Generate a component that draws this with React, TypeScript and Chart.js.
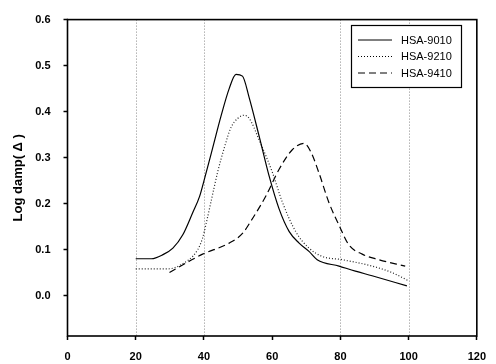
import React, { useEffect, useRef } from "react";
import { Chart, registerables } from "chart.js";

Chart.register(...registerables);

const seriesNames = ["HSA-9010", "HSA-9210", "HSA-9410"];

const x9010 = [20, 24.6, 28, 30.9, 33.8, 36.7, 38.7, 40.1, 42.6, 45, 47.4, 49.4, 51.3, 53.2, 56.2, 59.1, 62, 65, 67.9, 70.8, 73.2, 79.6, 84.4, 89.3, 99.5];
const y9010 = [0.08, 0.08, 0.089, 0.103, 0.132, 0.18, 0.215, 0.252, 0.322, 0.39, 0.45, 0.481, 0.477, 0.432, 0.346, 0.26, 0.189, 0.139, 0.114, 0.096, 0.078, 0.064, 0.053, 0.043, 0.021];

const x9210 = [20, 29.4, 33, 38.2, 39.6, 40.6, 42.1, 44, 46, 47.9, 49.9, 51.8, 53.3, 56.2, 60.1, 63, 66.9, 70.8, 74.7, 80.5, 89.3, 95.1, 100];
const y9210 = [0.058, 0.058, 0.066, 0.1, 0.125, 0.155, 0.205, 0.268, 0.322, 0.365, 0.385, 0.392, 0.385, 0.338, 0.267, 0.203, 0.139, 0.103, 0.085, 0.078, 0.064, 0.05, 0.032];

const x9410 = [29.9, 35.8, 39.6, 47.4, 51.3, 54.2, 58.2, 62, 65.9, 69.3, 71.3, 73.7, 76.6, 79.6, 82.5, 86.4, 91.2, 99];
const y9410 = [0.05, 0.075, 0.09, 0.114, 0.135, 0.167, 0.217, 0.274, 0.317, 0.331, 0.313, 0.267, 0.203, 0.153, 0.11, 0.09, 0.078, 0.064];

const xTicks = [0, 20, 40, 60, 80, 100, 120];
const yTicks = [0.0, 0.1, 0.2, 0.3, 0.4, 0.5, 0.6];
const xGridAt = [20, 40, 80, 100];

const dashes: number[][] = [[], [1, 2], [7, 4]];

function pts(xs: number[], ys: number[]) {
  return xs.map((x, i) => ({ x, y: ys[i] }));
}

const gridPlugin = {
  id: "dottedGrid",
  beforeDatasetsDraw(chart: any) {
    const { ctx, chartArea, scales } = chart;
    ctx.save();
    ctx.strokeStyle = "#8a8a8a";
    ctx.lineWidth = 1;
    ctx.setLineDash([1, 2]);
    xGridAt.forEach((v) => {
      const px = Math.round(scales.x.getPixelForValue(v)) + 0.5;
      ctx.beginPath();
      ctx.moveTo(px, chartArea.top);
      ctx.lineTo(px, chartArea.bottom);
      ctx.stroke();
    });
    ctx.restore();
  },
};

const legendPlugin = {
  id: "customLegend",
  afterDraw(chart: any) {
    const ctx = chart.ctx;
    const bx = 351.5, by = 25.5, bw = 110, bh = 62;
    ctx.save();
    ctx.fillStyle = "#fff";
    ctx.fillRect(bx, by, bw, bh);
    ctx.strokeStyle = "#000";
    ctx.lineWidth = 1.2;
    ctx.strokeRect(bx, by, bw, bh);
    const rows = [40, 56.5, 73];
    seriesNames.forEach((name, i) => {
      ctx.setLineDash(dashes[i]);
      ctx.lineWidth = 1;
      ctx.beginPath();
      ctx.moveTo(358, rows[i]);
      ctx.lineTo(392, rows[i]);
      ctx.stroke();
      ctx.setLineDash([]);
      ctx.fillStyle = "#000";
      ctx.font = "11px 'Liberation Sans', Arial, sans-serif";
      ctx.textBaseline = "middle";
      ctx.textAlign = "left";
      ctx.fillText(name, 401, rows[i] + 0.5);
    });
    ctx.restore();
  },
};

const framePlugin = {
  id: "frame",
  afterDatasetsDraw(chart: any) {
    const { ctx, chartArea } = chart;
    ctx.save();
    ctx.strokeStyle = "#000";
    ctx.lineWidth = 1.6;
    ctx.setLineDash([]);
    ctx.strokeRect(chartArea.left, chartArea.top, chartArea.right - chartArea.left, chartArea.bottom - chartArea.top);
    ctx.restore();
  },
};

export default function App() {
  const ref = useRef<HTMLCanvasElement>(null);
  useEffect(() => {
    if (!ref.current) return;
    const common = { pointRadius: 0, cubicInterpolationMode: "monotone", fill: false, borderWidth: 1.2 };
    const chart = new Chart(ref.current, {
      type: "line",
      data: {
        datasets: [
          { label: seriesNames[0], data: pts(x9010, y9010), borderColor: "#000", borderDash: dashes[0], ...common },
          { label: seriesNames[1], data: pts(x9210, y9210), borderColor: "#222", borderDash: dashes[1], ...common },
          { label: seriesNames[2], data: pts(x9410, y9410), borderColor: "#000", borderDash: dashes[2], ...common },
        ],
      },
      options: {
        responsive: false,
        animation: false,
        layout: { padding: { left: 0, right: 18, top: 14, bottom: 0 } },
        plugins: { legend: { display: false }, tooltip: { enabled: false } },
        scales: {
          x: {
            type: "linear",
            min: 0,
            max: 120,
            afterBuildTicks: (s: any) => { s.ticks = xTicks.map((v) => ({ value: v })); },
            afterFit: (s: any) => { s.height = 28; },
            ticks: {
              color: "#000",
              padding: 10,
              font: { family: "'Liberation Sans', Arial, sans-serif", size: 11, weight: "bold" },
              callback: (v: any) => String(v),
              maxRotation: 0,
            },
            grid: {
              color: "transparent",
              drawTicks: true,
              tickLength: 4,
              tickColor: "#000",
              tickWidth: 1.5,
            },
            border: { display: false },
          },
          y: {
            type: "linear",
            min: -0.088,
            max: 0.6,
            afterBuildTicks: (s: any) => { s.ticks = yTicks.map((v) => ({ value: v })); },
            afterFit: (s: any) => { s.width = 67.5; },
            ticks: {
              color: "#000",
              padding: 13,
              font: { family: "'Liberation Sans', Arial, sans-serif", size: 11, weight: "bold" },
              callback: (v: any) => Number(v).toFixed(1),
            },
            grid: {
              color: "transparent",
              drawTicks: true,
              tickLength: 4,
              tickColor: "#000",
              tickWidth: 1.5,
            },
            border: { display: false },
            title: {
              display: true,
              text: "Log damp( Δ )",
              color: "#000",
              font: { family: "'Liberation Sans', Arial, sans-serif", size: 13, weight: "bold" },
              padding: { top: 11, bottom: 0 },
            },
          },
        },
      },
      plugins: [gridPlugin, framePlugin, legendPlugin],
    } as any);
    return () => chart.destroy();
  }, []);
  return (
    <div style={{ position: "fixed", left: 0, top: 0, width: 496, height: 364, background: "#fff" }}>
      <canvas ref={ref} width={496} height={364} style={{ display: "block" }} />
    </div>
  );
}
